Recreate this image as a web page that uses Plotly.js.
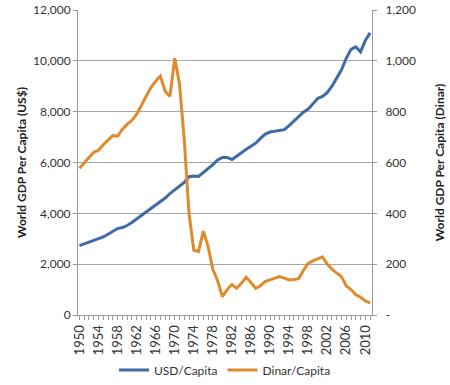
<!DOCTYPE html>
<html><head><meta charset="utf-8">
<script src="https://cdn.plot.ly/plotly-3.0.1.min.js"></script>
<style>body{margin:0;background:#fff}#c{width:450px;height:385px}</style>
</head><body><div id="c"></div>
<script>
var years = [];
for (var y = 1950; y <= 2011; y++) years.push(y);
var usdPerCapita = [2730,2800,2880,2940,3000,3070,3180,3300,3400,3440,
  3520,3640,3780,3900,4050,4200,4340,4470,4600,4780,
  4920,5050,5220,5440,5470,5450,5600,5750,5920,6100,
  6200,6200,6120,6250,6400,6520,6640,6760,6950,7120,
  7200,7230,7250,7290,7450,7620,7800,7980,8100,8300,
  8520,8600,8750,9000,9350,9650,10100,10450,10550,10350,
  10800,11100];
var dinarPerCapita = [577,600,620,640,648,670,690,706,704,730,
  750,765,790,825,865,895,920,940,880,860,
  1010,910,690,400,255,250,330,270,180,135,
  72,100,120,105,125,148,128,105,115,132,
  138,145,151,145,138,140,143,175,203,213,
  220,229,200,180,165,151,114,100,80,70,
  55,48];
var xTickVals = [1950,1954,1958,1962,1966,1970,1974,1978,1982,1986,1990,1994,1998,2002,2006,2010];
var xTickText = ["1950","1954","1958","1962","1966","1970","1974","1978","1982","1986","1990","1994","1998","2002","2006","2010"];
var leftTickVals = [0,2000,4000,6000,8000,10000,12000];
var leftTickText = ["0","2,000","4,000","6,000","8,000","10,000","12,000"];
var rightTickVals = [0,200,400,600,800,1000,1200];
var rightTickText = ["-","200","400","600","800","1,000","1,200"];

var font = "Lato, 'Open Sans', sans-serif";
var traces = [
  {x: years, y: usdPerCapita, name: "USD/Capita", type: "scatter", mode: "lines",
   line: {color: "#3f6aa6", width: 3}},
  {x: years, y: dinarPerCapita, name: "Dinar/Capita", type: "scatter", mode: "lines",
   yaxis: "y2", line: {color: "#e08a2e", width: 3}}
];
var layout = {
  width: 450, height: 385,
  margin: {l: 78, r: 78, t: 10, b: 70, autoexpand: false},
  paper_bgcolor: "#fff", plot_bgcolor: "#fff",
  font: {family: font, size: 12, color: "#333"},
  showlegend: true,
  legend: {orientation: "h", x: 0.5, xanchor: "center", y: -0.18, yanchor: "middle",
    bgcolor: "rgba(0,0,0,0)", font: {size: 12, color: "#333"}, itemwidth: 30, traceorder: "normal"},
  xaxis: {range: [1949.7, 2011.4], tickmode: "array", tickvals: xTickVals, ticktext: xTickText,
    tickangle: -90, ticks: "outside", ticklen: 4, tickcolor: "#999",
    showline: true, linecolor: "#999", linewidth: 1, showgrid: false, zeroline: false,
    minor: {tickmode: "linear", dtick: 1, tick0: 1950, ticks: "outside", ticklen: 4, tickcolor: "#999", showgrid: false},
    tickfont: {size: 13, color: "#333"}},
  yaxis: {range: [0, 12000], tickmode: "array", tickvals: leftTickVals, ticktext: leftTickText,
    ticks: "outside", ticklen: 4, tickcolor: "#999",
    showline: true, linecolor: "#999", gridcolor: "#a6a6a6", gridwidth: 1, zeroline: false,
    title: {text: "<b>World GDP Per Capita (US$)</b>", font: {size: 12, color: "#222"}, standoff: 3},
    tickfont: {size: 12, color: "#333"}},
  yaxis2: {range: [0, 1200], overlaying: "y", side: "right", tickmode: "array",
    tickvals: rightTickVals, ticktext: rightTickText,
    ticks: "outside", ticklen: 4, tickcolor: "#999", ticklabelstandoff: 6,
    showline: true, linecolor: "#999", showgrid: false, zeroline: false,
    title: {text: "<b>World GDP Per Capita (Dinar)</b>", font: {size: 12, color: "#222"}, standoff: 20},
    tickfont: {size: 12, color: "#333"}}
};
Plotly.newPlot("c", traces, layout, {displayModeBar: false, staticPlot: true});
</script></body></html>
